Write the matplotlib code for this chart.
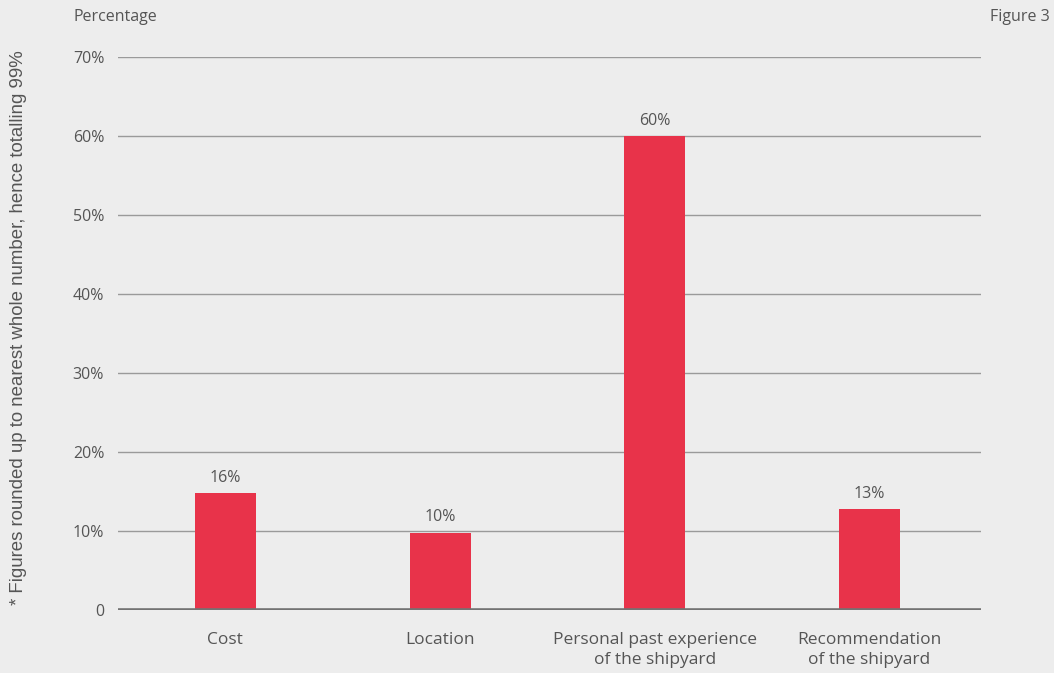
import matplotlib
matplotlib.use("Agg")
import matplotlib.pyplot as plt

categories = ["Cost", "Location", "Personal past experience\nof the shipyard",
              "Recommendation\nof the shipyard"]
values = [14.8, 9.8, 60.0, 12.8]
value_labels = ["16%", "10%", "60%", "13%"]
yticks = [0, 10, 20, 30, 40, 50, 60, 70]
ytick_labels = ["0", "10%", "20%", "30%", "40%", "50%", "60%", "70%"]

bg = "#ededed"
txt = "#555555"
plt.rcParams['font.family'] = ['Open Sans', 'DejaVu Sans']

fig = plt.figure(figsize=(10.54, 6.73), dpi=100, facecolor=bg)
ax = fig.add_axes([0.112, 0.0936, 0.819, 0.8217], facecolor=bg)

x = range(len(categories))
ax.bar(x, values, width=0.285, color="#e8334a", zorder=3)
for i, v in enumerate(values):
    ax.text(i, v + 0.9, value_labels[i], ha="center", va="bottom",
            fontsize=11.5, color=txt)

ax.set_xlim(-0.5, 3.52)
ax.set_ylim(0, 70)
ax.set_yticks(yticks)
ax.set_yticklabels(ytick_labels, fontsize=11.5, color=txt)
ax.set_xticks(list(x))
ax.set_xticklabels(categories, fontsize=12.5, color=txt, linespacing=1.3)
ax.tick_params(axis="both", length=0)
ax.tick_params(axis="y", pad=10)
ax.tick_params(axis="x", pad=16)
for y in yticks[1:]:
    ax.axhline(y, color="#9a9a9a", lw=1.0, zorder=1)
ax.axhline(0, color="#737373", lw=2.6, zorder=4)
for s in ax.spines.values():
    s.set_visible(False)

fig.text(0.070, 0.975, "Percentage", fontsize=11.5, color=txt, va="center")
fig.text(0.996, 0.975, "Figure 3", fontsize=11.5, color=txt, va="center", ha="right")
fig.text(0.018, 0.513, "* Figures rounded up to nearest whole number, hence totalling 99%",
         rotation=90, fontsize=13.4, color=txt, ha="center", va="center",
         family=["Liberation Sans", "DejaVu Sans"])

fig.savefig("out.png", dpi=100, facecolor=bg)
